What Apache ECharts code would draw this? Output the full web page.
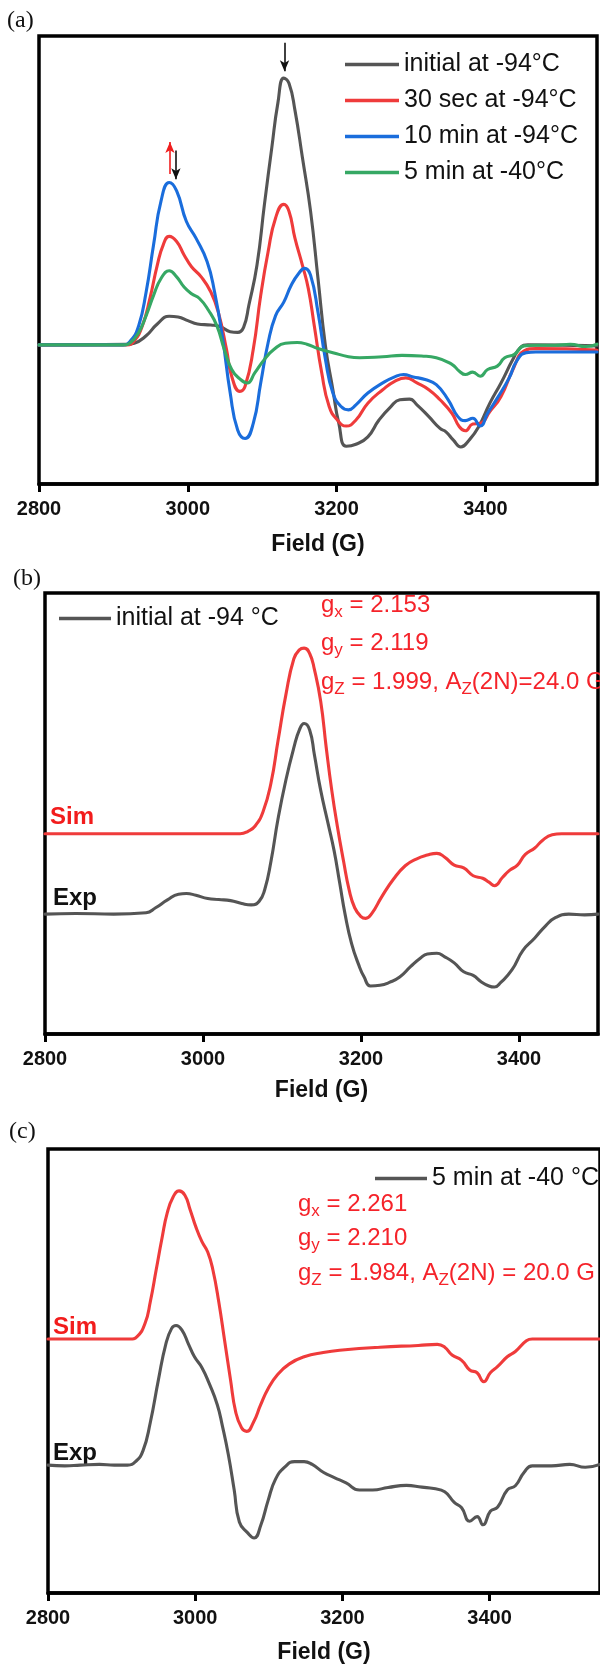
<!DOCTYPE html>
<html>
<head>
<meta charset="utf-8">
<style>
  html, body { margin: 0; padding: 0; background: #fff; }
  #chart { width: 600px; height: 1667px; }
</style>
<script src="https://cdn.jsdelivr.net/npm/echarts@6/dist/echarts.min.js"></script>
</head>
<body>
<div id="chart"></div>
<script>
// x ticks shared by all panels
const xTicks = [2800, 3000, 3200, 3400];

// panel (a): [field (G), intensity (a.u.)]
const initialA = [[2800,0],[2918,0.2],[2928,0.5],[2944,2.7],[2959,6.2],[2975,8.5],[2987,8.3],[3000,7.2],[3013,6.2],[3031,5.9],[3044,5.4],[3057,3.9],[3067,3.7],[3075,5.2],[3082,11.7],[3093,23.7],[3103,41.7],[3113,58.7],[3121,71.7],[3129,79.2],[3136,77.7],[3144,69.7],[3154,55.7],[3165,39.7],[3175,19.7],[3185,-0.3],[3195,-13.3],[3203,-23.3],[3213,-30.1],[3226,-29.5],[3242,-27.3],[3257,-22.3],[3273,-18.3],[3285,-16.3],[3298,-16.1],[3308,-17.8],[3324,-21.3],[3339,-24.8],[3347,-25.8],[3357,-28.3],[3367,-30.3],[3378,-28.3],[3391,-24.3],[3406,-17.3],[3421,-11.3],[3437,-4.3],[3447,-0.8],[3457,0],[3550,-0.3]];
const sec30A = [[2800,0],[2918,0],[2928,1.2],[2939,5.7],[2949,13.7],[2959,23.7],[2967,29.7],[2975,32.2],[2985,30.7],[2995,26.7],[3005,23.2],[3018,20.2],[3031,15.7],[3041,9.7],[3052,-1.3],[3059,-9.3],[3070,-13.8],[3077,-12.3],[3088,-1.3],[3098,14.7],[3108,27.7],[3118,37.7],[3129,41.7],[3136,39.7],[3144,31.7],[3154,23.7],[3162,16.7],[3170,5.7],[3180,-8.3],[3190,-18.3],[3201,-22.3],[3213,-24.1],[3226,-22.3],[3242,-17.3],[3262,-13.3],[3278,-10.8],[3293,-9.8],[3308,-11.3],[3324,-13.3],[3339,-16.3],[3355,-20.3],[3365,-24.3],[3373,-25.5],[3383,-23.5],[3393,-23.3],[3406,-19.8],[3421,-15.3],[3437,-7.3],[3452,-1.8],[3468,-1.1],[3550,-1.5]];
const min10A = [[2800,0],[2913,0],[2923,1.2],[2934,5.7],[2944,15.7],[2954,29.7],[2964,42.7],[2975,48.2],[2985,45.7],[2998,36.7],[3011,31.7],[3026,24.7],[3036,15.7],[3047,1.7],[3057,-14.3],[3067,-25.3],[3077,-27.8],[3088,-23.3],[3098,-11.3],[3108,0.7],[3118,8.7],[3129,12.7],[3139,17.7],[3149,21.2],[3157,22.7],[3165,20.7],[3175,9.7],[3185,-4.3],[3195,-14.3],[3206,-18.3],[3216,-19.3],[3226,-17.8],[3242,-14.3],[3262,-11.3],[3278,-9.5],[3290,-8.8],[3303,-9.5],[3319,-10.3],[3334,-11.8],[3350,-16.3],[3363,-21.3],[3373,-22.5],[3383,-21.8],[3393,-24.1],[3403,-20.3],[3416,-15.8],[3432,-9.8],[3442,-4.8],[3455,-2.3],[3468,-2.1],[3550,-2.1]];
const min5A = [[2800,0],[2913,0],[2923,0.7],[2934,3.7],[2944,8.7],[2954,14.7],[2964,19.7],[2975,22.0],[2985,20.2],[2995,17.2],[3005,15.2],[3016,13.7],[3028,10.2],[3039,5.7],[3049,-1.3],[3059,-7.3],[3070,-10.1],[3080,-11.3],[3090,-8.3],[3103,-4.3],[3116,-1.3],[3131,0.5],[3147,0.7],[3160,0.2],[3175,-1.1],[3195,-2.3],[3216,-3.5],[3231,-3.8],[3262,-3.5],[3288,-3.1],[3314,-3.3],[3334,-3.8],[3355,-5.8],[3365,-7.8],[3373,-8.8],[3383,-8.1],[3393,-9.3],[3403,-7.3],[3416,-6.3],[3426,-3.8],[3439,-2.8],[3452,-0.3],[3468,-0.1],[3493,-0.1],[3514,0.2],[3535,-0.5],[3550,0.2]];

// panel (b)
const simB = [[2800,22.6],[3047,22.6],[3057,23.3],[3066,24.8],[3076,28.8],[3086,36.8],[3095,48.8],[3105,61.8],[3115,71.8],[3122,74.3],[3128,74.8],[3135,73.3],[3141,68.8],[3149,59.8],[3156,46.8],[3163,34.8],[3170,24.8],[3178,14.8],[3185,6.8],[3192,1.8],[3200,-0.7],[3206,-1.2],[3214,0.3],[3226,4.8],[3241,9.8],[3256,13.6],[3270,15.5],[3284,16.6],[3296,17.1],[3306,16.0],[3318,13.8],[3330,13.0],[3342,10.8],[3354,10.1],[3362,9.0],[3369,8.0],[3379,10.3],[3388,12.3],[3398,13.8],[3408,16.8],[3420,18.6],[3430,20.8],[3442,22.3],[3454,22.6],[3500,22.6]];
const expB = [[2800,0],[2839,0.2],[2887,0],[2928,0.4],[2940,1.8],[2955,4.0],[2969,5.6],[2979,5.8],[2991,5.3],[3006,4.4],[3020,4.1],[3035,3.8],[3049,3.0],[3061,2.6],[3071,3.6],[3078,6.8],[3086,14.8],[3095,26.8],[3105,37.8],[3115,46.8],[3122,51.8],[3128,53.6],[3135,51.8],[3141,44.8],[3149,34.8],[3158,25.8],[3166,17.8],[3173,8.8],[3180,-0.2],[3188,-8.2],[3197,-14.2],[3204,-17.7],[3212,-20.2],[3224,-20.0],[3236,-19.2],[3249,-17.7],[3263,-14.7],[3275,-12.4],[3284,-11.2],[3296,-11.0],[3306,-12.0],[3318,-13.7],[3330,-16.2],[3342,-17.2],[3352,-19.0],[3362,-20.2],[3369,-20.5],[3377,-19.2],[3391,-15.7],[3405,-10.2],[3420,-6.7],[3434,-3.2],[3446,-1.0],[3463,0],[3483,-0.2],[3500,0]];

// panel (c)
const simC = [[2800,35.5],[2911,35.5],[2921,36.2],[2932,40.0],[2939,46.0],[2947,55.0],[2955,64.0],[2962,71.0],[2970,75.5],[2978,77.2],[2986,76.0],[2993,72.0],[3001,67.0],[3009,63.0],[3017,60.0],[3024,55.0],[3032,46.0],[3040,35.0],[3048,24.0],[3055,15.0],[3063,10.5],[3070,9.5],[3079,12.0],[3089,17.0],[3099,21.5],[3112,25.5],[3128,28.5],[3148,30.5],[3174,31.7],[3200,32.4],[3251,33.2],[3303,33.7],[3329,34.0],[3339,33.2],[3349,31.0],[3362,29.5],[3373,26.8],[3383,26.0],[3392,23.5],[3401,26.0],[3411,27.8],[3424,30.5],[3435,32.0],[3450,35.0],[3458,35.5],[3550,35.5]];
const expC = [[2800,0],[2823,-0.2],[2844,0],[2870,0.2],[2890,0],[2908,0],[2919,1.0],[2929,4.0],[2939,12.0],[2950,24.0],[2960,34.0],[2968,38.5],[2974,39.3],[2982,38.0],[2991,34.0],[2999,30.5],[3009,27.5],[3019,23.0],[3030,17.0],[3037,11.0],[3045,3.0],[3053,-7.0],[3060,-16.0],[3071,-19.0],[3080,-20.5],[3089,-17.0],[3099,-10.0],[3109,-4.0],[3122,-0.5],[3135,1.0],[3148,1.0],[3159,0.2],[3174,-2.0],[3189,-3.5],[3205,-5.0],[3223,-7.0],[3241,-7.0],[3262,-6.3],[3287,-5.7],[3308,-6.2],[3324,-6.6],[3339,-7.5],[3352,-10.5],[3362,-12.0],[3373,-15.8],[3383,-14.5],[3391,-16.8],[3401,-13.0],[3411,-11.8],[3424,-7.0],[3435,-5.8],[3447,-2.0],[3458,-0.2],[3484,-0.2],[3509,0.2],[3530,-0.6],[3550,0.2]];

// arrows in panel (a): [field, from, to]
const arrowsA = [
  { field: 3130, from: 89.7, to: 81.2, color: '#111' },
  { field: 2976, from: 50.7, to: 60.2, color: '#f01e1e' },
  { field: 2984, from: 57.7, to: 49.2, color: '#111' }
];

const GRAY = '#555555';
const RED = '#ef3b3b';
const BLUE = '#1a6ddc';
const GREEN = '#36a864';
const TXT_RED = '#f5232a';

const chart = echarts.init(document.getElementById('chart'));

// measure text so subscripts can be placed after the main text
const ctx = document.createElement('canvas').getContext('2d');
const MAIN_FONT = '24px "Liberation Sans"';
const SUB_FONT = '17px "Liberation Sans"';
function textWidth(t, font) {
  ctx.font = font;
  return ctx.measureText(t).width;
}
function formula(x, y, parts) {
  const out = [];
  let cx = x;
  parts.forEach(([t, sub]) => {
    const font = sub ? SUB_FONT : MAIN_FONT;
    out.push({
      type: 'text', x: cx, y: sub ? y + 7 : y, silent: true,
      style: { text: t, font: font, fill: TXT_RED, align: 'left', verticalAlign: 'middle' }
    });
    cx += textWidth(t, font);
  });
  return out;
}

function fieldAxis(gridIndex, max, nameGap) {
  return {
    type: 'value', gridIndex, min: 2800, max, interval: 200,
    name: 'Field (G)', nameLocation: 'middle', nameGap,
    nameTextStyle: { fontSize: 23, fontWeight: 'bold', color: '#111' },
    axisLine: { show: true, onZero: false, lineStyle: { color: '#000', width: 3.5 } },
    axisTick: { show: true, inside: false, length: 8, customValues: xTicks, lineStyle: { color: '#000', width: 3 } },
    axisLabel: {
      show: true, margin: 15, fontSize: 20, fontWeight: 'bold', color: '#111',
      customValues: xTicks, formatter: v => String(v)
    },
    splitLine: { show: false }
  };
}
function intensityAxis(gridIndex, min, max) {
  return { type: 'value', gridIndex, min, max, show: false, splitLine: { show: false } };
}
function trace(name, data, color, axisIndex) {
  return {
    name, type: 'line', data, xAxisIndex: axisIndex, yAxisIndex: axisIndex,
    showSymbol: false, symbol: 'none', smooth: 0.5,
    itemStyle: { color }, lineStyle: { color, width: 3.1, join: 'round', cap: 'round' },
    emphasis: { disabled: true }
  };
}
function arrowLine(a) {
  return {
    silent: true, animation: false, symbol: ['none', 'arrow'], symbolSize: [7, 11],
    label: { show: false }, emphasis: { disabled: true },
    lineStyle: { color: a.color, width: 1.6, type: 'solid' },
    data: [[{ coord: [a.field, a.from] }, { coord: [a.field, a.to] }]]
  };
}

const legendText = { fontSize: 25, lineHeight: 24, color: '#111' };

const seriesA = [
  trace('initial at -94°C', initialA, GRAY, 0),
  trace('30 sec at -94°C', sec30A, RED, 0),
  trace('10 min at -94°C', min10A, BLUE, 0),
  trace('5 min at -40°C', min5A, GREEN, 0)
];
// arrows: black one on gray, red + black pair near the low-field peak
seriesA[0].markLine = arrowLine(arrowsA[0]);
seriesA[1].markLine = arrowLine(arrowsA[1]);
seriesA[2].markLine = arrowLine(arrowsA[2]);

const option = {
  animation: false,
  textStyle: { fontFamily: '"Liberation Sans", Arial, sans-serif' },
  grid: [
    { left: 39, top: 36, width: 558, height: 448, show: true, borderColor: '#000', borderWidth: 3.5, backgroundColor: 'transparent' },
    { left: 45, top: 593, width: 553, height: 441, show: true, borderColor: '#000', borderWidth: 3.5, backgroundColor: 'transparent' },
    { left: 48, top: 1149, width: 556, height: 444, show: true, borderColor: '#000', borderWidth: 3.5, backgroundColor: 'transparent' }
  ],
  xAxis: [fieldAxis(0, 3550, 49), fieldAxis(1, 3500, 45), fieldAxis(2, 3550, 48)],
  yAxis: [intensityAxis(0, -41.3, 91.7), intensityAxis(1, -33.7, 90.3), intensityAxis(2, -36, 89)],
  legend: [
    {
      orient: 'vertical', left: 340, top: 47, itemWidth: 54, itemHeight: 3.5, itemGap: 11,
      icon: 'rect', selectedMode: false, textStyle: legendText,
      data: ['initial at -94°C', '30 sec at -94°C', '10 min at -94°C', '5 min at -40°C']
    },
    {
      orient: 'vertical', left: 54, top: 601, itemWidth: 52, itemHeight: 3.5,
      icon: 'rect', selectedMode: false, textStyle: legendText,
      data: ['initial at -94 °C']
    },
    {
      orient: 'vertical', left: 370, top: 1161, itemWidth: 52, itemHeight: 3.5,
      icon: 'rect', selectedMode: false, textStyle: legendText,
      data: ['5 min at -40 °C']
    }
  ],
  series: [
    ...seriesA,
    trace('Sim b', simB, RED, 1),
    trace('initial at -94 °C', expB, GRAY, 1),
    trace('Sim c', simC, RED, 2),
    trace('5 min at -40 °C', expC, GRAY, 2)
  ],
  graphic: [
    { type: 'text', x: 7, y: 21, silent: true, style: { text: '(a)', font: '24px "Liberation Serif"', fill: '#111', verticalAlign: 'middle' } },
    { type: 'text', x: 13, y: 579, silent: true, style: { text: '(b)', font: '24px "Liberation Serif"', fill: '#111', verticalAlign: 'middle' } },
    { type: 'text', x: 9, y: 1132, silent: true, style: { text: '(c)', font: '24px "Liberation Serif"', fill: '#111', verticalAlign: 'middle' } },
    { type: 'text', x: 50, y: 817, silent: true, style: { text: 'Sim', font: 'bold 24px "Liberation Sans"', fill: '#f21c1c', verticalAlign: 'middle' } },
    { type: 'text', x: 53, y: 898, silent: true, style: { text: 'Exp', font: 'bold 24px "Liberation Sans"', fill: '#111', verticalAlign: 'middle' } },
    { type: 'text', x: 53, y: 1327, silent: true, style: { text: 'Sim', font: 'bold 24px "Liberation Sans"', fill: '#f21c1c', verticalAlign: 'middle' } },
    { type: 'text', x: 53, y: 1453, silent: true, style: { text: 'Exp', font: 'bold 24px "Liberation Sans"', fill: '#111', verticalAlign: 'middle' } },
    ...formula(321, 605, [['g', 0], ['x', 1], [' = 2.153', 0]]),
    ...formula(321, 643, [['g', 0], ['y', 1], [' = 2.119', 0]]),
    ...formula(321, 682, [['g', 0], ['Z', 1], [' = 1.999, A', 0], ['Z', 1], ['(2N)=24.0 G', 0]]),
    ...formula(298, 1204, [['g', 0], ['x', 1], [' = 2.261', 0]]),
    ...formula(298, 1238, [['g', 0], ['y', 1], [' = 2.210', 0]]),
    ...formula(298, 1273, [['g', 0], ['Z', 1], [' = 1.984, A', 0], ['Z', 1], ['(2N) = 20.0 G', 0]])
  ]
};

chart.setOption(option);
</script>
</body>
</html>
